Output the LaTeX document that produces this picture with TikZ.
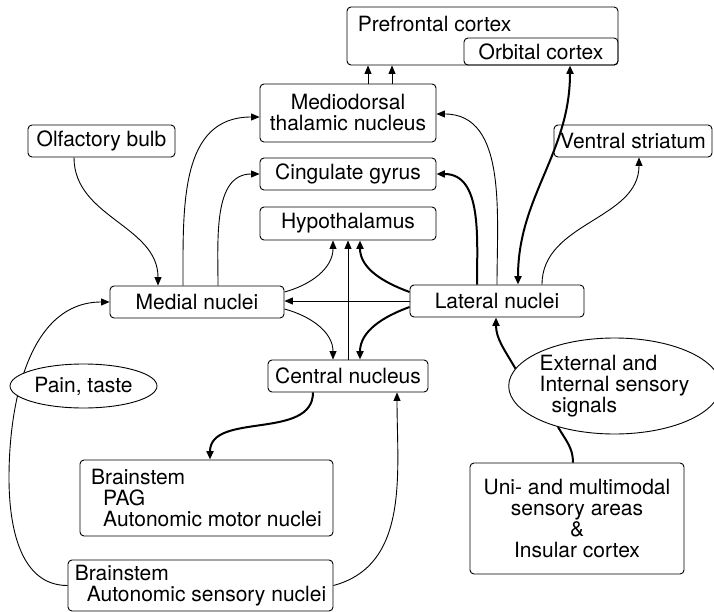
\documentclass[tikz,border=0pt]{standalone}
\usepackage{fontspec}
\setmainfont{TeX Gyre Heros}
\usetikzlibrary{arrows.meta,shapes.geometric}

\begin{document}
\begin{tikzpicture}[x=1pt,y=1pt,>={Triangle[length=8.5pt,width=7pt]},
  font=\fontsize{21}{21}\selectfont,
  box/.style={draw,line width=0.9pt,rounded corners=4pt,inner sep=0pt,align=center,minimum height=32pt},
  oval/.style={draw,ellipse,line width=0.9pt,inner sep=0pt,fill=white},
  link/.style={->,line width=0.9pt},
  boldlink/.style={->,line width=2pt}]
\useasboundingbox (0,0) rectangle (714,-612);
% cortical targets
\node[box,minimum width=271pt,minimum height=58pt,
  label={[anchor=north west,inner sep=0pt,xshift=11pt,yshift=-9pt]north west:Prefrontal cortex}] (pfc) at (482.5,-36) {};
\node[box,minimum width=154pt,minimum height=27pt] (orb) at (541,-51.5) {Orbital cortex};
\node[box,minimum width=176pt,minimum height=58pt] (md) at (348,-113) {Mediodorsal\\thalamic nucleus};
\node[box,minimum width=176pt] (cg) at (348,-174) {Cingulate gyrus};
\node[box,minimum width=176pt,minimum height=33pt] (hyp) at (348,-223.5) {Hypothalamus};
\node[box,minimum width=147pt] (olf) at (101.5,-141) {Olfactory bulb};
\node[box,minimum width=158pt] (vs) at (633,-141) {Ventral striatum};
% amygdala nuclei
\node[box,minimum width=174pt] (medial) at (197,-302) {Medial nuclei};
\node[box,minimum width=174pt] (lateral) at (497,-301) {Lateral nuclei};
\node[box,minimum width=160pt] (central) at (348,-376) {Central nucleus};
% brainstem and sensory inputs
\node[box,minimum width=253pt,minimum height=76pt,align=left] (pag) at (206.5,-498)
  {Brainstem\\\hspace*{12pt}PAG\\\hspace*{12pt}Autonomic motor nuclei};
\node[box,minimum width=265pt,minimum height=51pt,align=left] (sens) at (200.5,-585.5)
  {Brainstem\\\hspace*{12pt}Autonomic sensory nuclei};
\node[box,minimum width=214pt,minimum height=111pt] (uni) at (577,-518.5)
  {Uni- and multimodal\\sensory areas\\\&\\Insular cortex};

% sensory loop round the left side
\coordinate (loop) at (9,-478);
\draw[link] (sens.west) to[out=180,in=-90] (loop) to[out=90,in=180] (medial.west);
\node[oval,minimum width=147pt,minimum height=44pt] (pain) at (83.5,-386) {Pain, taste};
\node[oval,minimum width=199pt,minimum height=96pt,align=left] (ext) at (614.5,-386)
  {External and\\Internal sensory\\\hspace*{12pt}signals};

% thin projections
\draw[link] ([xshift=-27.5pt]olf.south) to[out=-90,in=90] ([xshift=-39pt]medial.north);
\draw[link] ([xshift=-14pt]medial.north) to[out=90,in=180,looseness=1.1] ([yshift=-4pt]md.west);
\draw[link] ([xshift=21pt]medial.north) to[out=90,in=180] (cg.west);
\draw[link] ([yshift=10pt]medial.east) to[out=15,in=-90] ([xshift=-15pt]hyp.south);
\draw[link] ([yshift=-7pt]medial.east) to[out=-15,in=90] ([xshift=-15pt]central.north);
\draw[link] (lateral.west) -- (lateral.west -| medial.east);
\draw[link] (central.north) -- (central.north |- hyp.south);
\draw[link] (lateral.north) to[out=90,in=0] ([yshift=-1pt]md.east);
\draw[link] ([xshift=45pt]lateral.north) to[out=90,in=-90] ([xshift=6pt]vs.south);
\draw[link] ([xshift=20pt]md.north) -- ([xshift=20pt]md.north |- pfc.south);
\draw[link] ([xshift=44pt]md.north) -- ([xshift=44pt]md.north |- pfc.south);
\draw[link] (sens.east) to[out=15,in=-90] ([xshift=49pt]central.south);

% heavy projections
\draw[boldlink] ([yshift=9pt]lateral.west) to[out=160,in=-90] ([xshift=12pt]hyp.south);
\draw[boldlink] ([yshift=-6pt]lateral.west) to[out=200,in=90] ([xshift=12pt]central.north);
\draw[boldlink] ([xshift=-20pt]lateral.north) to[out=90,in=0] (cg.east);
\draw[boldlink,<->] ([xshift=29pt]orb.south) to[out=-90,in=90] ([xshift=21pt]lateral.north);
\draw[boldlink] (ext.170) to[out=120,in=-90] ([xshift=-1pt]lateral.south);
\draw[line width=2pt] ([xshift=-4pt]uni.north) to[out=90,in=-60] (ext.216);
\draw[boldlink] ([xshift=-35pt]central.south) to[out=-90,in=90] ([xshift=3.5pt]pag.north);
\end{tikzpicture}
\end{document}
